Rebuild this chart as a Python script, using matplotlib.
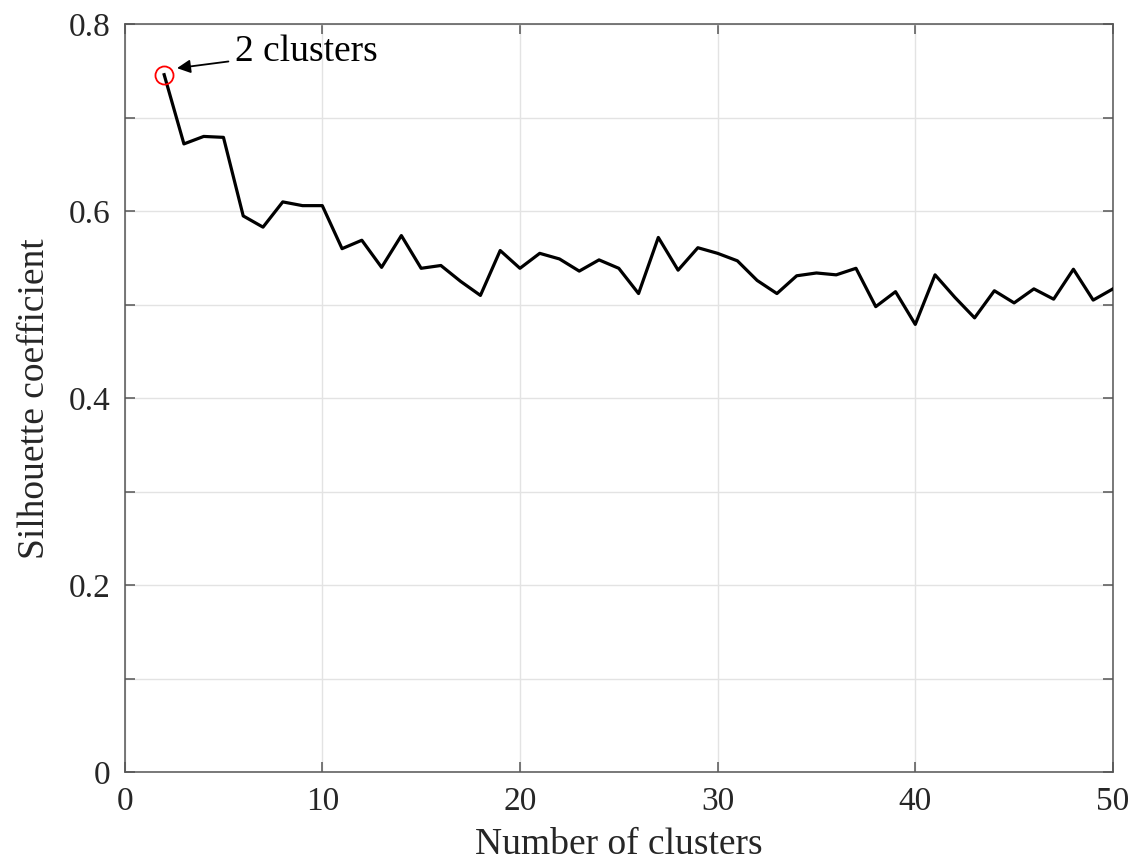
import matplotlib
matplotlib.use("Agg")
import matplotlib.pyplot as plt
import numpy as np

plt.rcParams["font.family"] = ["Liberation Serif", "DejaVu Serif"]

# silhouette coefficient for k = 2..50 clusters
clusters = np.arange(2, 51)
silhouette = [0.746, 0.672, 0.680, 0.679, 0.595, 0.583, 0.610, 0.606, 0.606,
              0.560, 0.569, 0.540, 0.574, 0.539, 0.542, 0.525, 0.510, 0.558,
              0.539, 0.555, 0.549, 0.536, 0.548, 0.539, 0.512, 0.572, 0.537,
              0.561, 0.555, 0.547, 0.526, 0.512, 0.531, 0.534, 0.532, 0.539,
              0.498, 0.514, 0.479, 0.532, 0.508, 0.486, 0.515, 0.502, 0.517,
              0.506, 0.538, 0.505, 0.517]
best_k = 2
best_label = "2 clusters"
yticks = [0, 0.1, 0.2, 0.3, 0.4, 0.5, 0.6, 0.7, 0.8]
ytick_labels = ["0", "", "0.2", "", "0.4", "", "0.6", "", "0.8"]
xticks = [0, 10, 20, 30, 40, 50]

fig = plt.figure(figsize=(11.33, 8.64), dpi=100)
ax = fig.add_axes([0.110, 0.106, 0.8723, 0.866])

ax.plot(clusters, silhouette, color="black", lw=2.3, zorder=3)
ax.plot(best_k, silhouette[0], "o", mfc="none", mec="red", ms=13, mew=1.3, zorder=4)
ax.annotate(best_label, xy=(2.65, 0.753), xytext=(5.6, 0.771),
            fontsize=27, va="center", ha="left",
            arrowprops=dict(arrowstyle="-|>", color="black", lw=1.3,
                            mutation_scale=20, shrinkA=3, shrinkB=0))

ax.set_xlim(0, 50)
ax.set_ylim(0, 0.8)
ax.set_xticks(xticks)
ax.set_yticks(yticks)
ax.set_yticklabels(ytick_labels)
ax.grid(True, color="#e3e3e3", lw=1.0)
ax.set_axisbelow(True)
ax.tick_params(direction="in", top=True, right=True, length=7.5, width=1.1,
               color="#555555", labelsize=24, labelcolor="#262626", pad=10)
for s in ax.spines.values():
    s.set_color("#555555")
    s.set_linewidth(1.1)

ax.set_xlabel("Number of clusters", fontsize=27, color="#262626", labelpad=8)
ax.set_ylabel("Silhouette coefficient", fontsize=27, color="#262626", labelpad=12)

fig.savefig("out.png", dpi=100)
